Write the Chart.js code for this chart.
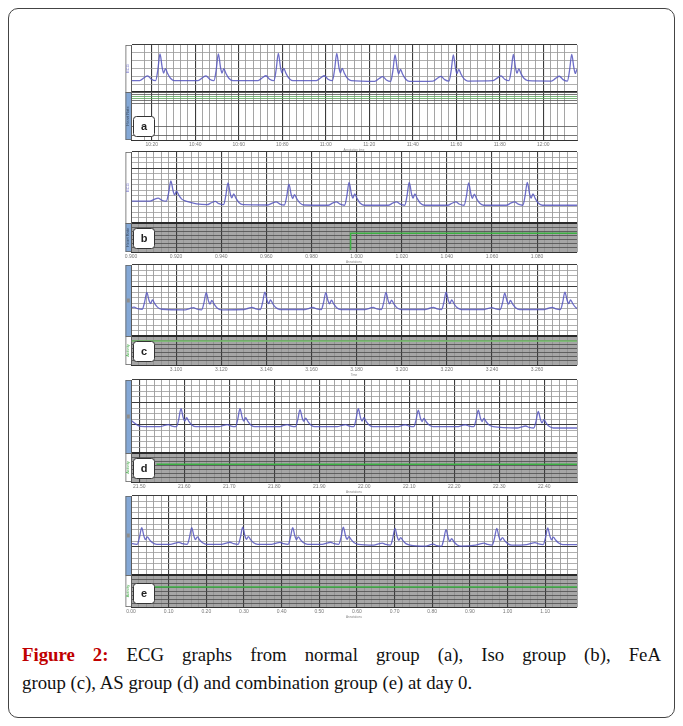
<!DOCTYPE html>
<html>
<head>
<meta charset="utf-8">
<script src="https://cdn.jsdelivr.net/npm/chart.js@4.4.1/dist/chart.umd.min.js"></script>
<style>
  html, body { margin: 0; padding: 0; background: #fff; }
  #page { position: relative; width: 683px; height: 726px; overflow: hidden; }
  #frame { position: absolute; left: 8px; top: 8px; width: 667px; height: 710px; border: 1px solid #444; border-radius: 10px; box-sizing: border-box; }
  canvas { position: absolute; }
  .cap { position: absolute; left: 22px; width: 639px; font-family: "Liberation Serif", "DejaVu Serif", serif; font-size: 18.8px; line-height: 28px; color: #111; white-space: nowrap; }
  #cap1 { top: 641px; text-align: justify; text-align-last: justify; white-space: normal; }
  #cap2 { top: 669px; text-align: left; }
  .cap b { color: #c00000; }
</style>
</head>
<body>
<div id="page">
  <div id="frame"></div>
  <canvas id="pa"></canvas>
  <canvas id="pb"></canvas>
  <canvas id="pc"></canvas>
  <canvas id="pd"></canvas>
  <canvas id="pe"></canvas>
  <div class="cap" id="cap1"><b>Figure 2:</b> ECG graphs from normal group (a), Iso group (b), FeA</div>
  <div class="cap" id="cap2">group (c), AS group (d) and combination group (e) at day 0.</div>
</div>
<script>
const beatsA = [1.14, 9.19, 17.46, 25.52, 33.56, 41.6, 49.88, 57.93];
const rAmpA  = [3.4, 3.4, 3.47, 3.47, 3.38, 3.33, 3.34, 3.39];
const baseA  = [1.45, 1.45, 1.45, 1.45, 1.35, 1.4, 1.45, 1.4];

const beatsB = [5.3, 12.9, 21.0, 29.0, 37.0, 44.9, 52.7];
const rAmpB  = [3.7, 4.0, 3.8, 4.2, 4.2, 4.1, 4.2];
const baseB  = [4.0, 3.35, 3.3, 3.25, 3.25, 3.25, 3.25];

const beatsC = [2.1, 10.0, 17.8, 25.9, 33.9, 41.9, 49.7, 57.7];
const rAmpC  = [3.1, 3.15, 3.2, 3.1, 3.15, 3.2, 3.0, 3.2];
const baseC  = [4.9, 4.8, 4.85, 4.85, 4.85, 4.85, 4.85, 4.85];

const beatsD = [5.56, 13.43, 21.43, 29.2, 37.2, 45.2, 53.2];
const rAmpD  = [3.2, 3.2, 3.05, 3.2, 2.95, 2.95, 2.95];
const baseD  = [4.68, 4.68, 4.68, 4.68, 4.68, 4.68, 4.45];

const beatsE = [1.42, 8.06, 14.83, 21.47, 28.19, 35.06, 41.83, 48.57, 55.34];
const rAmpE  = [2.95, 2.95, 3.05, 2.95, 3.05, 2.95, 2.95, 2.95, 2.95];
const baseE  = [5.44, 5.44, 5.44, 5.44, 5.44, 5.3, 5.1, 5.3, 5.4];

// start of each trace before the first beat [x, y]
const leadA = [[-5, 1.45]];
const leadB = [[-5, 4.03]];
const leadC = [[-5, 4.9]];
const leadD = [[-1.2, 5.9], [0.2, 4.75]];
const leadE = [[-5, 5.44]];

// one beat: P, QRS, T (offsets in minor units, weights of R height)
const shapeDx = [-2.8, -2.2, -1.7, -1.2, -0.6, -0.3, 0, 0.3, 0.5, 0.75, 1.05, 1.45, 2.0];
const shapeP  = [0, 0.6, 1, 0.3, 0, 0, 0, 0, 0, 0, 0, 0, 0];
const shapeR  = [0, 0, 0, 0, 0, 0.4, 1, 0.38, 0.06, 0, 0, 0, 0];
const shapeT  = [0, 0, 0, 0, 0, 0, 0, 0.25, 0.5, 1, 0.6, 0.2, 0];
const pFrac = [0.18, 0.15, 0.12, 0.12, 0.12];
const tFrac = [0.45, 0.5, 0.55, 0.5, 0.45];

// lower strip (activity) green traces
const greenBx = [29.2, 29.2, 62], greenBy = [0.5, 4.5, 4.5];
const greenCx = [-5, 62],         greenCy = [5.8, 5.8];
const greenDx = [2.3, 62],        greenDy = [4.3, 4.3];
const greenEx = [3, 62],          greenEy = [5.0, 5.0];

// x tick labels (one per major line)
const ticksA = ["10:20", "10:40", "10:60", "10:80", "11:00", "11:20", "11:40", "11:60", "11:80", "12:00"];
const ticksB = ["0.900", "0.920", "0.940", "0.960", "0.980", "1.000", "1.020", "1.040", "1.060", "1.080"];
const ticksC = ["3.100", "3.120", "3.140", "3.160", "3.180", "3.200", "3.220", "3.240", "3.260"];
const ticksD = ["21.50", "21.60", "21.70", "21.80", "21.90", "22.00", "22.10", "22.20", "22.30", "22.40"];
const ticksE = ["0.00", "0.10", "0.20", "0.30", "0.40", "0.50", "0.60", "0.70", "0.80", "0.90", "1.00", "1.10"];
const subLabels = ["Annotation time", "Annotations", "Time", "Annotations", "Annotations"];

// layout of each strip on the page
const panels = [
  { id: "a", top: 45, split: 92, bottom: 140, minorPx: 7.25, xMin: -2.86, major: 6, labelFrom: 0, rows: 6, lowRows: 48, lowGray: false, upSide: "white", lowSide: "blue", yMajor: [6],
    lowTicks: [48, 47.3, 45.7, 43.3, 41.7, 39.3, 36.7, 13.3, 4.3, 0], lowGreen: [43.3, 41.7],
    beats: beatsA, amps: rAmpA, base: baseA, lead: leadA, ticks: ticksA, gx: [], gy: [] },
  { id: "b", top: 152, split: 223, bottom: 252, minorPx: 7.52, xMin: 0, major: 6, labelFrom: 0, rows: 13, lowRows: 7, lowGray: true, upSide: "white", lowSide: "blue", yMajor: [13, 10],
    beats: beatsB, amps: rAmpB, base: baseB, lead: leadB, ticks: ticksB, gx: greenBx, gy: greenBy },
  { id: "c", top: 265, split: 336, bottom: 365, minorPx: 7.52, xMin: 0, major: 6, labelFrom: 1, rows: 13, lowRows: 7, lowGray: true, upSide: "blue", lowSide: "white", yMajor: [13, 9],
    beats: beatsC, amps: rAmpC, base: baseC, lead: leadC, ticks: ticksC, gx: greenCx, gy: greenCy },
  { id: "d", top: 380, split: 453, bottom: 482, minorPx: 7.5, xMin: -1.1, major: 6, labelFrom: 0, rows: 13, lowRows: 7, lowGray: true, upSide: "blue", lowSide: "white", yMajor: [13, 9, 5],
    beats: beatsD, amps: rAmpD, base: baseD, lead: leadD, ticks: ticksD, gx: greenDx, gy: greenDy },
  { id: "e", top: 496, split: 575, bottom: 607, minorPx: 7.53, xMin: 0, major: 5, labelFrom: 0, rows: 14, lowRows: 8, lowGray: true, upSide: "blue", lowSide: "white", yMajor: [14, 10, 5],
    beats: beatsE, amps: rAmpE, base: baseE, lead: leadE, ticks: ticksE, gx: greenEx, gy: greenEy }
];

const PLOT_LEFT = 131, PLOT_RIGHT = 577, CANVAS_LEFT = 120;
const PAD_TOP = 2, AXIS_H = 12;
const SIDE_BLUE = "#84a8d6";

function isMajor(v, m) {
  const r = ((v % m) + m) % m;
  return r < 1e-6 || m - r < 1e-6;
}

function buildTrace(p, k) {
  const pts = p.lead.map(([x, y]) => ({ x, y }));
  p.beats.forEach((b, i) => {
    shapeDx.forEach((dx, j) => {
      const h = shapeR[j] + pFrac[k] * shapeP[j] + tFrac[k] * shapeT[j];
      pts.push({ x: b + dx, y: p.base[i] + p.amps[i] * h });
    });
  });
  pts.push({ x: 70, y: p.base[p.base.length - 1] });
  return pts;
}

const panelDecor = {
  id: "panelDecor",
  beforeDraw(chart, args, opts) {
    const { ctx, chartArea } = chart;
    const low = chart.scales.y2;
    ctx.save();
    ctx.fillStyle = "#fff";
    ctx.fillRect(chartArea.left, chartArea.top, chartArea.width, chartArea.height);
    if (opts.lowGray) {
      ctx.fillStyle = "#a6a6a6";
      ctx.fillRect(chartArea.left, low.top, chartArea.width, low.bottom - low.top);
    }
    ctx.restore();
  },
  afterDraw(chart, args, opts) {
    const { ctx, chartArea } = chart;
    const up = chart.scales.y, low = chart.scales.y2;
    const x0 = chartArea.left - 5.5, w = 5.5;
    ctx.save();
    // side bar
    ctx.fillStyle = opts.upSide === "blue" ? SIDE_BLUE : "#fff";
    ctx.fillRect(x0, up.top, w, up.bottom - up.top);
    ctx.fillStyle = opts.lowSide === "blue" ? SIDE_BLUE : "#fff";
    ctx.fillRect(x0, low.top, w, low.bottom - low.top);
    ctx.strokeStyle = "#666";
    ctx.lineWidth = 0.8;
    ctx.strokeRect(x0 + 0.4, up.top + 0.4, w, up.bottom - up.top);
    ctx.strokeRect(x0 + 0.4, low.top + 0.4, w, low.bottom - low.top - 0.8);
    // side bar captions
    const cx = x0 + w / 2;
    ctx.font = "4px 'Liberation Sans'";
    ctx.textAlign = "center";
    ctx.textBaseline = "middle";
    ctx.save();
    ctx.translate(cx, (up.top + up.bottom) / 2);
    ctx.rotate(-Math.PI / 2);
    if (opts.upSide === "blue") {
      ctx.fillStyle = "#8d8d8d";
      ctx.fillRect(-2, -1.5, 4, 3);
    } else {
      ctx.fillStyle = "#5b5bc0";
      ctx.fillText("ECG", 0, 0);
    }
    ctx.restore();
    ctx.save();
    ctx.translate(cx, (low.top + low.bottom) / 2);
    ctx.rotate(-Math.PI / 2);
    ctx.fillStyle = opts.lowSide === "blue" ? "#3a4a60" : "#4caf50";
    ctx.fillText(opts.lowSide === "blue" ? "Heart Rate" : "Activity", 0, 0);
    ctx.restore();
    // letter box
    const bw = 21, bh = 20;
    const bx = chartArea.left + 2, by = low.bottom - 4 - bh;
    ctx.beginPath();
    ctx.roundRect(bx + 0.5, by + 0.5, bw, bh, 3);
    ctx.fillStyle = "#fff";
    ctx.fill();
    ctx.strokeStyle = "#333";
    ctx.lineWidth = 1;
    ctx.stroke();
    ctx.fillStyle = "#222";
    ctx.font = "bold 11px 'Liberation Sans'";
    ctx.fillText(opts.id, bx + bw / 2 + 0.5, by + bh / 2 + 1);
    ctx.restore();
  }
};

panels.forEach((p, k) => {
  const canvas = document.getElementById("p" + p.id);
  const W = PLOT_RIGHT + 4 - CANVAS_LEFT;
  const H = PAD_TOP + (p.bottom - p.top) + AXIS_H;
  canvas.width = W;
  canvas.height = H;
  canvas.style.left = CANVAS_LEFT + "px";
  canvas.style.top = (p.top - PAD_TOP) + "px";
  canvas.style.width = W + "px";
  canvas.style.height = H + "px";
  const xMax = p.xMin + (PLOT_RIGHT - PLOT_LEFT) / p.minorPx;

  const datasets = [{
    data: buildTrace(p, k),
    yAxisID: "y",
    borderColor: "rgba(85,85,190,0.85)",
    borderWidth: 1.3,
    pointRadius: 0,
    cubicInterpolationMode: "monotone",
    fill: false
  }];
  if (p.gx.length) {
    datasets.push({
      data: p.gx.map((x, i) => ({ x, y: p.gy[i] })),
      yAxisID: "y2",
      borderColor: p.id === "c" ? "rgba(120,190,110,0.8)" : "#3cb043",
      borderWidth: p.id === "c" ? 2 : 1.5,
      pointRadius: 0,
      tension: 0,
      fill: false
    });
  }

  new Chart(canvas, {
    type: "line",
    data: { datasets },
    options: {
      responsive: false,
      animation: false,
      events: [],
      devicePixelRatio: 1,
      layout: { padding: { left: PLOT_LEFT - CANVAS_LEFT, right: 4, top: PAD_TOP, bottom: 0 } },
      plugins: {
        legend: { display: false },
        tooltip: { enabled: false },
        panelDecor: { id: p.id, lowGray: p.lowGray, upSide: p.upSide, lowSide: p.lowSide }
      },
      scales: {
        x: {
          type: "linear",
          min: p.xMin,
          max: xMax,
          afterFit(s) { s.height = AXIS_H; },
          border: { color: "#333", width: 1 },
          grid: {
            drawTicks: false,
            color: (c) => isMajor(c.tick.value, p.major) ? "#3c3c3c" : "#8e8e8e",
            lineWidth: (c) => isMajor(c.tick.value, p.major) ? 1.1 : 0.8
          },
          ticks: {
            stepSize: 1,
            autoSkip: false,
            maxRotation: 0,
            minRotation: 0,
            padding: 2,
            color: "#777",
            font: { size: 5, family: "Liberation Sans" },
            callback(v) {
              if (!isMajor(v, p.major)) return "";
              const i = Math.round(v / p.major) - p.labelFrom;
              return p.ticks[i] !== undefined ? p.ticks[i] : "";
            }
          },
          title: { display: true, text: subLabels[k], color: "#888", padding: 0, font: { size: 3, family: "Liberation Sans" } }
        },
        y: {
          type: "linear",
          position: "left",
          stack: "strip",
          stackWeight: p.split - p.top,
          weight: 2,
          min: 0,
          max: p.rows,
          afterFit(s) { s.width = 0; },
          border: { color: "#333", width: 1 },
          ticks: { display: false, stepSize: 1 },
          grid: {
            drawTicks: false,
            color: (c) => p.yMajor.includes(c.tick.value) ? "#3c3c3c" : "#9a9a9a",
            lineWidth: (c) => p.yMajor.includes(c.tick.value) ? 1.1 : 0.8
          }
        },
        y2: {
          type: "linear",
          position: "left",
          stack: "strip",
          stackWeight: p.bottom - p.split,
          weight: 1,
          min: 0,
          max: p.lowRows,
          afterFit(s) { s.width = 0; },
          afterBuildTicks(s) {
            if (p.lowTicks) s.ticks = p.lowTicks.map((v) => ({ value: v }));
          },
          border: { color: "#333", width: 1 },
          ticks: { display: false, stepSize: 1 },
          grid: {
            drawTicks: false,
            color: (c) => {
              const v = c.tick.value;
              if (v === p.lowRows) return "#2a2a2a";
              if (p.lowGreen && p.lowGreen.includes(v)) return "#5aa65a";
              return p.lowGray ? "#4c4c4c" : "#555";
            },
            lineWidth: (c) => c.tick.value === p.lowRows ? (p.lowGray ? 2 : 1.5) : 0.8
          }
        }
      }
    },
    plugins: [panelDecor]
  });
});
</script>
</body>
</html>
